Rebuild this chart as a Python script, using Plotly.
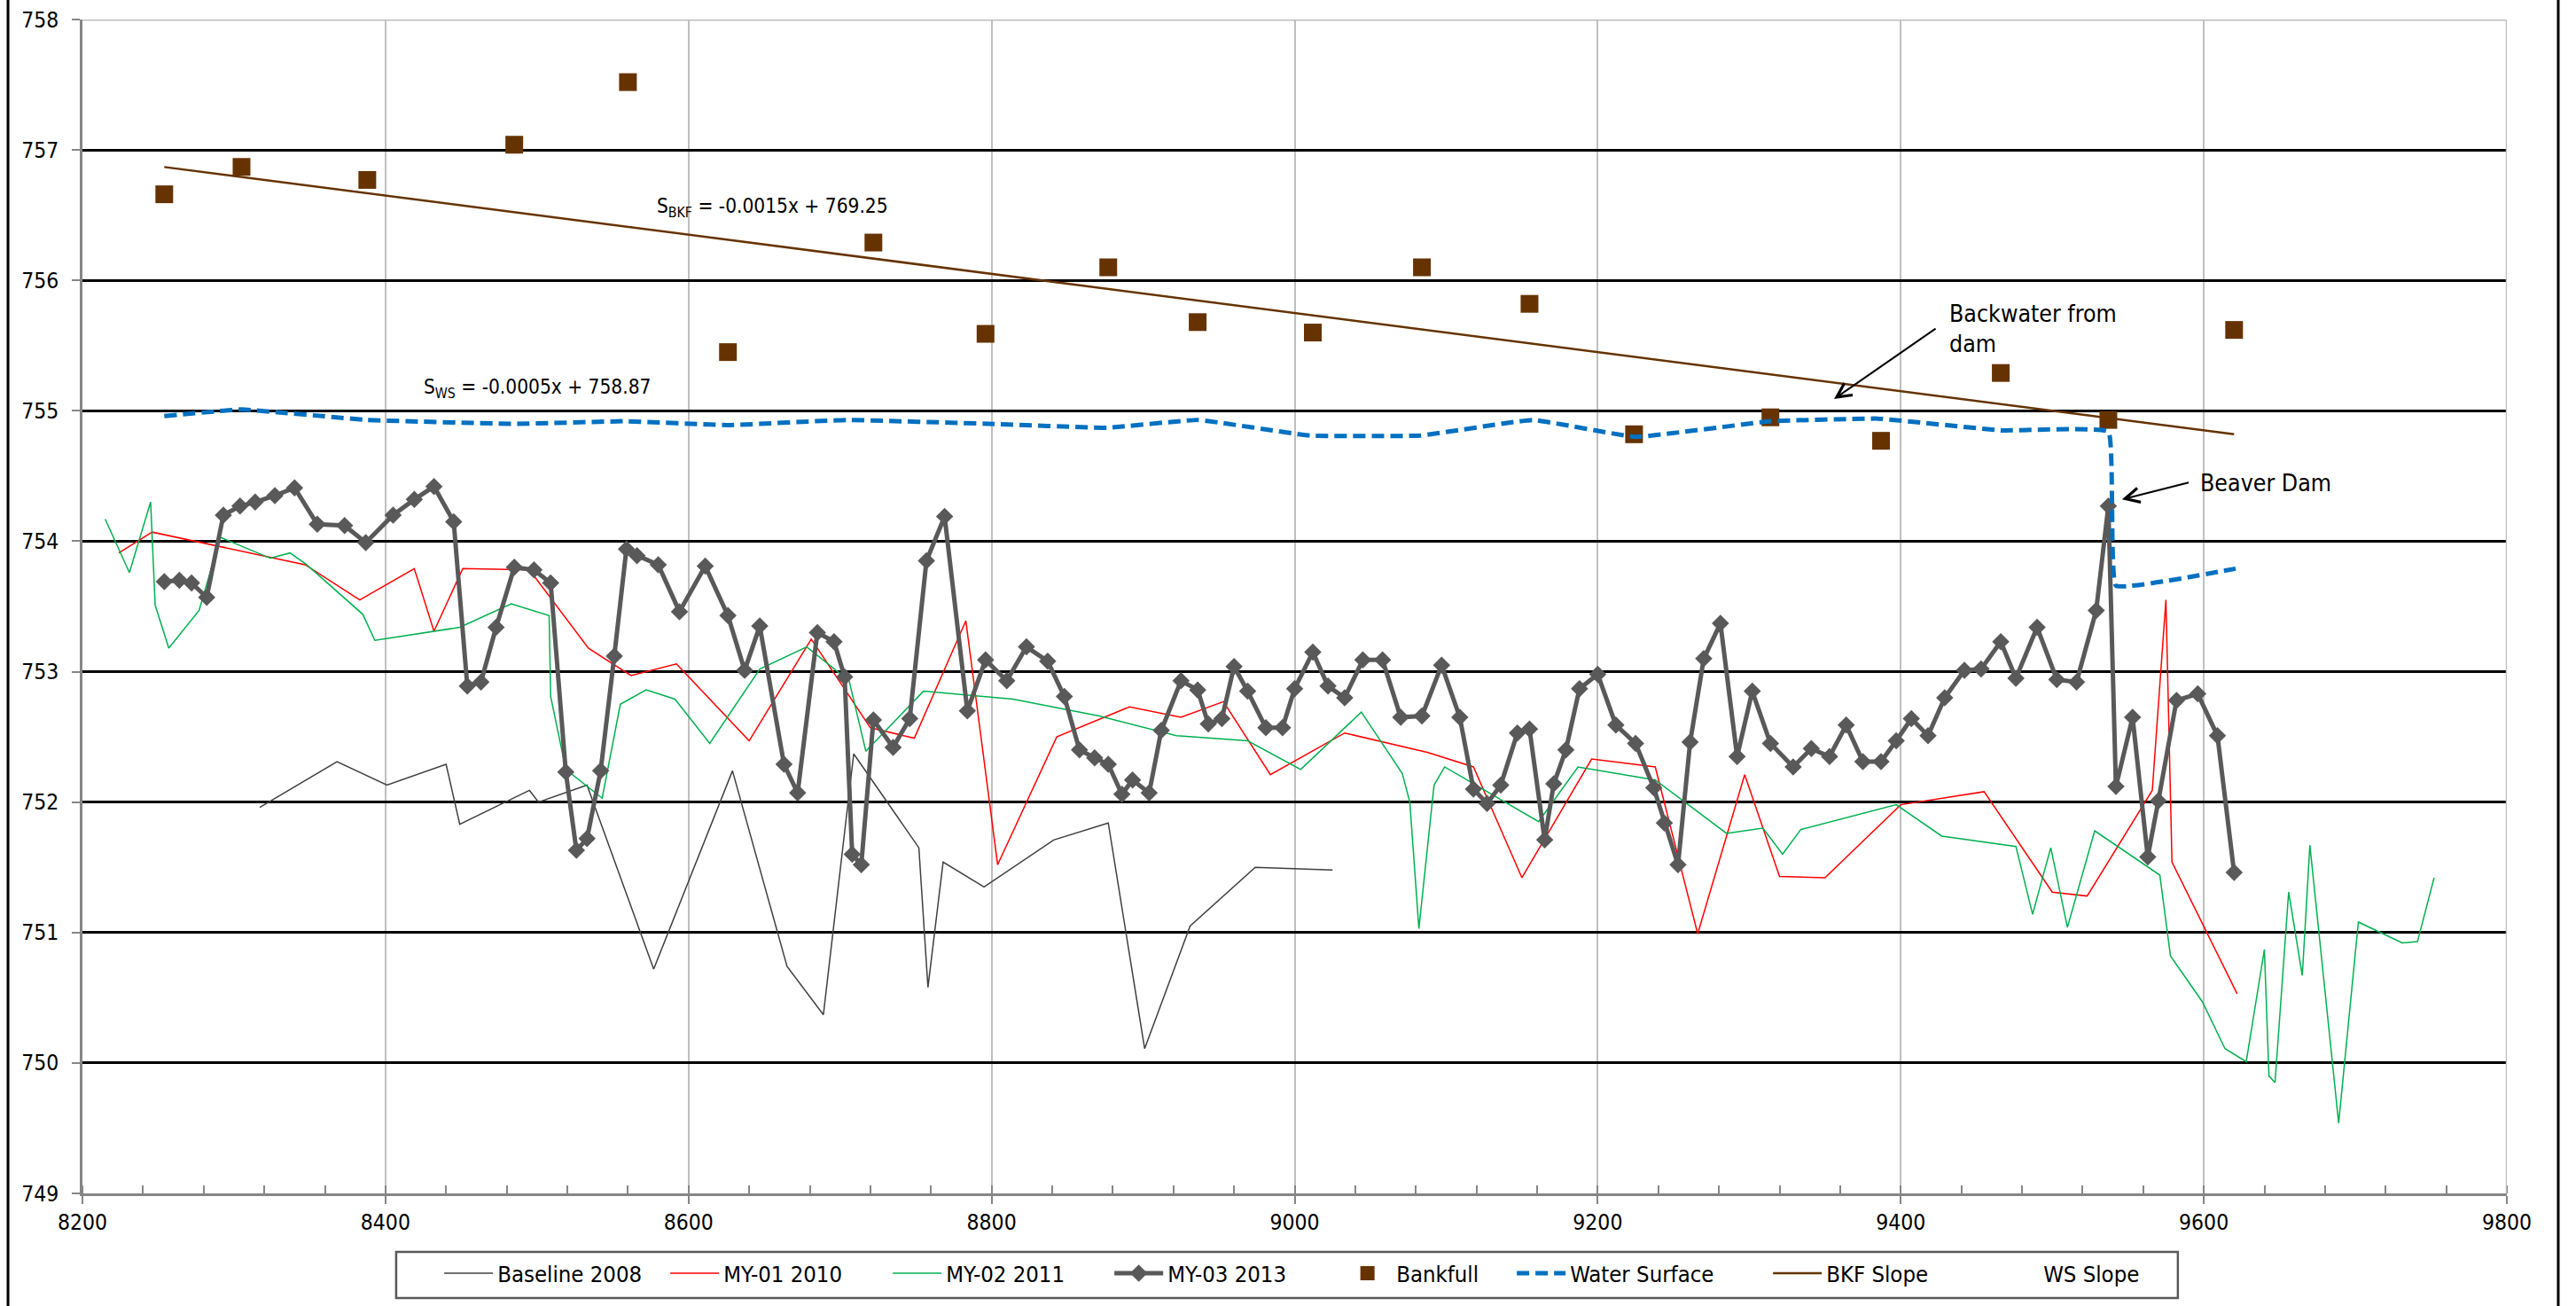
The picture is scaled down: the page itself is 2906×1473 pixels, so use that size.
import plotly.graph_objects as go

# ---- Longitudinal profile data: station (ft) vs elevation (ft) ----
baseline_x = [8317, 8368, 8401, 8440, 8449, 8495, 8501, 8533, 8577, 8629, 8665, 8689,
              8709, 8752, 8758, 8768, 8795, 8841, 8877, 8901, 8931, 8974, 9025]
baseline_y = [751.96, 752.31, 752.13, 752.29, 751.83, 752.09, 752.00, 752.13, 750.72,
              752.24, 750.74, 750.37, 752.37, 751.65, 750.58, 751.54, 751.35, 751.71,
              751.84, 750.11, 751.05, 751.50, 751.48]

my01_x = [8224, 8246, 8347, 8383, 8419, 8432, 8451, 8495, 8534, 8562, 8592, 8640, 8681,
          8720, 8749, 8783, 8804, 8843, 8891, 8925, 8953, 8984, 9033, 9088, 9118, 9150,
          9196, 9238, 9266, 9297, 9320, 9350, 9400, 9455, 9500, 9523, 9566, 9575, 9579, 9622]
my01_y = [753.91, 754.07, 753.82, 753.55, 753.79, 753.31, 753.79, 753.78, 753.18, 752.97,
          753.06, 752.47, 753.25, 752.57, 752.49, 753.39, 751.52, 752.50, 752.73, 752.65,
          752.77, 752.21, 752.53, 752.38, 752.27, 751.42, 752.33, 752.27, 750.99, 752.21,
          751.43, 751.42, 751.98, 752.08, 751.31, 751.28, 752.09, 753.55, 751.54, 750.53]

my02_x = [8215, 8231, 8245, 8248, 8257, 8277, 8291, 8324, 8337, 8348, 8385, 8393, 8449,
          8483, 8508, 8509, 8519, 8543, 8555, 8572, 8591, 8614, 8647, 8678, 8706, 8717,
          8755, 8814, 8871, 8922, 8969, 9004, 9044, 9071, 9076, 9082, 9092, 9099, 9161,
          9187, 9238, 9285, 9309, 9322, 9334, 9397, 9427, 9476, 9487, 9499, 9510, 9528,
          9571, 9578, 9599, 9614, 9628, 9640, 9643, 9647, 9656, 9665, 9670, 9681, 9689,
          9702, 9731, 9741, 9752]
my02_y = [754.17, 753.76, 754.30, 753.51, 753.18, 753.47, 754.03, 753.87, 753.91, 753.82,
          753.44, 753.24, 753.34, 753.52, 753.43, 752.81, 752.25, 752.03, 752.75, 752.86,
          752.79, 752.45, 753.02, 753.19, 752.93, 752.39, 752.85, 752.79, 752.66, 752.51,
          752.47, 752.25, 752.69, 752.22, 752.00, 751.03, 752.13, 752.27, 751.85, 752.27,
          752.17, 751.76, 751.80, 751.60, 751.79, 751.98, 751.74, 751.66, 751.14, 751.65,
          751.04, 751.78, 751.44, 750.82, 750.47, 750.11, 750.01, 750.87, 749.90, 749.85,
          751.31, 750.67, 751.67, 750.45, 749.54, 751.08, 750.92, 750.93, 751.42]

my03_x = [8254, 8264, 8272, 8282, 8293, 8304, 8314, 8327, 8340, 8355, 8373, 8387, 8405,
          8419, 8432, 8445, 8454, 8463, 8473, 8485, 8498, 8509, 8519, 8526, 8533, 8542,
          8551, 8559, 8566, 8580, 8594, 8611, 8626, 8637, 8647, 8663, 8672, 8685, 8696,
          8703, 8708, 8714, 8722, 8735, 8746, 8757, 8769, 8784, 8796, 8810, 8823, 8837,
          8848, 8858, 8868, 8877, 8886, 8893, 8904, 8912, 8925, 8936, 8943, 8952, 8960,
          8969, 8981, 8992, 9000, 9012, 9022, 9033, 9045, 9058, 9070, 9084, 9097, 9109,
          9118, 9127, 9136, 9147, 9155, 9165, 9171, 9179, 9188, 9200, 9212, 9225, 9237,
          9244, 9253, 9261, 9270, 9281, 9292, 9302, 9314, 9329, 9341, 9353, 9364, 9375,
          9387, 9397, 9407, 9418, 9429, 9442, 9453, 9466, 9476, 9490, 9503, 9516, 9529,
          9537, 9542, 9553, 9563, 9570, 9582, 9596, 9609, 9620]
my03_y = [753.69, 753.70, 753.68, 753.57, 754.20, 754.27, 754.30, 754.35, 754.41, 754.13,
          754.12, 753.99, 754.20, 754.32, 754.42, 754.15, 752.89, 752.92, 753.34, 753.80,
          753.78, 753.68, 752.23, 751.63, 751.72, 752.24, 753.12, 753.94, 753.89, 753.82,
          753.46, 753.81, 753.43, 753.01, 753.35, 752.29, 752.07, 753.30, 753.23, 752.96,
          751.60, 751.52, 752.63, 752.42, 752.64, 753.85, 754.19, 752.70, 753.09, 752.93,
          753.19, 753.08, 752.81, 752.40, 752.34, 752.29, 752.06, 752.17, 752.07, 752.55,
          752.93, 752.86, 752.60, 752.64, 753.04, 752.85, 752.57, 752.57, 752.87, 753.15,
          752.89, 752.80, 753.09, 753.09, 752.65, 752.66, 753.05, 752.65, 752.10, 751.99,
          752.13, 752.53, 752.56, 751.71, 752.14, 752.40, 752.87, 752.98, 752.59, 752.45,
          752.11, 751.84, 751.52, 752.46, 753.10, 753.37, 752.35, 752.85, 752.45, 752.27,
          752.41, 752.35, 752.59, 752.31, 752.31, 752.47, 752.64, 752.51, 752.80, 753.01,
          753.02, 753.23, 752.95, 753.34, 752.94, 752.92, 753.47, 754.27, 752.12, 752.65,
          751.58, 752.01, 752.78, 752.83, 752.51, 751.46]

bankfull_x = [8254, 8305, 8388, 8485, 8560, 8626, 8722, 8796, 8877, 8936, 9012, 9084,
              9155, 9224, 9314, 9387, 9466, 9537, 9620]
bankfull_y = [756.66, 756.87, 756.77, 757.04, 757.52, 755.45, 756.29, 755.59, 756.10,
              755.68, 755.60, 756.10, 755.82, 754.82, 754.95, 754.77, 755.29, 754.93, 755.62]

ws_x = [8254, 8305, 8388, 8485, 8558, 8626, 8704, 8798, 8876, 8936, 9010, 9083, 9157,
        9225, 9314, 9385, 9466, 9537, 9542, 9621]
ws_y = [754.96, 755.01, 754.93, 754.90, 754.92, 754.89, 754.93, 754.90, 754.87, 754.93,
        754.81, 754.81, 754.93, 754.80, 754.92, 754.94, 754.85, 754.84, 753.66, 753.79]

# Linear trend coefficients (slope, intercept)
bkf_slope, bkf_intercept = -0.0015, 769.25
ws_slope, ws_intercept = -0.0005, 758.87

x_ticks = [8200, 8400, 8600, 8800, 9000, 9200, 9400, 9600, 9800]
y_ticks = [749, 750, 751, 752, 753, 754, 755, 756, 757, 758]

FONT = "Liberation Sans Narrow, DejaVu Sans Condensed, Liberation Sans, sans-serif"

fig = go.Figure()

fig.add_trace(go.Scatter(x=baseline_x, y=baseline_y, mode="lines", name="Baseline 2008",
                         line=dict(color="#404040", width=1.5), legendwidth=185))
fig.add_trace(go.Scatter(x=my01_x, y=my01_y, mode="lines", name="MY-01 2010",
                         line=dict(color="#FF0000", width=1.5), legendwidth=181))
fig.add_trace(go.Scatter(x=my02_x, y=my02_y, mode="lines", name="MY-02 2011",
                         line=dict(color="#00B050", width=1.5), legendwidth=180))
fig.add_trace(go.Scatter(x=my03_x, y=my03_y, mode="lines+markers", name="MY-03 2013",
                         line=dict(color="#595959", width=5),
                         marker=dict(symbol="diamond", size=15, color="#595959"),
                         legendwidth=188))
fig.add_trace(go.Scatter(x=bankfull_x, y=bankfull_y, mode="markers", name="Bankfull",
                         marker=dict(symbol="square", size=20, color="#663300"),
                         legendwidth=126))
fig.add_trace(go.Scatter(x=ws_x, y=ws_y, mode="lines", name="Water Surface",
                         line=dict(color="#0070C0", width=5, dash="14px,7px",
                                   shape="spline", smoothing=0.25),
                         legendwidth=219))

bkf_fit_x = [min(bankfull_x), max(bankfull_x)]
bkf_fit_y = [bkf_slope * v + bkf_intercept for v in bkf_fit_x]
fig.add_trace(go.Scatter(x=bkf_fit_x, y=bkf_fit_y, mode="lines", name="BKF Slope",
                         line=dict(color="#663300", width=2.5), legendwidth=175))

ws_fit_x = [min(ws_x), max(ws_x)]
ws_fit_y = [ws_slope * v + ws_intercept for v in ws_fit_x]
fig.add_trace(go.Scatter(x=ws_fit_x, y=ws_fit_y, mode="lines", name="WS Slope",
                         line=dict(color="rgba(0,0,0,0)", width=2), legendwidth=110))

TXT = dict(family=FONT, size=26.5, color="#000000")
EQ = dict(family=FONT, size=22.5, color="#000000")
ARROW = dict(showarrow=True, arrowhead=5, arrowsize=1.6, arrowwidth=2,
             arrowcolor="#000000", xref="x", yref="y", axref="x", ayref="y")

annotations = [
    dict(x=8578, y=756.56, xref="x", yref="y", xanchor="left", yanchor="middle",
         text="S<sub>BKF</sub> = -0.0015x + 769.25", showarrow=False, font=EQ),
    dict(x=8424, y=755.17, xref="x", yref="y", xanchor="left", yanchor="middle",
         text="S<sub>WS</sub> = -0.0005x + 758.87", showarrow=False, font=EQ),
    # callout text sits just right of each arrow tail
    dict(x=9356, y=755.09, ax=9423, ay=755.63, xanchor="left", yanchor="middle",
         align="left", text="Backwater from<br>dam", font=TXT, borderpad=14, **ARROW),
    dict(x=9546, y=754.32, ax=9590, ay=754.45, xanchor="left", yanchor="middle",
         text="Beaver Dam", font=TXT, borderpad=12, **ARROW),
]

shapes = [
    # plot frame: top and right edges
    dict(type="line", xref="x", yref="y", x0=8200, x1=9800, y0=758, y1=758,
         line=dict(color="#BFBFBF", width=3), layer="above"),
    dict(type="line", xref="x", yref="y", x0=9800, x1=9800, y0=749, y1=758,
         line=dict(color="#BFBFBF", width=2.5), layer="above"),
    # legend box
    dict(type="rect", xref="paper", yref="paper", x0=0.1294, x1=0.8643, y0=-0.0891,
         y1=-0.0498, line=dict(color="#595959", width=2.5), fillcolor="rgba(0,0,0,0)",
         layer="above"),
    # chart-area border
    dict(type="rect", xref="paper", yref="paper", x0=-0.0307, x1=1.0212, y0=-0.11, y1=1.03,
         line=dict(color="#000000", width=3), fillcolor="rgba(0,0,0,0)", layer="above"),
]

fig.update_layout(
    width=2906, height=1473,
    margin=dict(l=93, r=78, t=22, b=127, autoexpand=False),
    paper_bgcolor="#FFFFFF", plot_bgcolor="#FFFFFF",
    font=dict(family=FONT, size=24, color="#000000"),
    showlegend=True,
    legend=dict(orientation="h", x=0.1474, xanchor="left", y=-0.0505, yanchor="top",
                borderwidth=0, bgcolor="rgba(0,0,0,0)",
                font=dict(family=FONT, size=25.5, color="#000000"), itemwidth=55,
                traceorder="normal"),
    annotations=annotations,
    shapes=shapes,
    xaxis=dict(range=[8200, 9800], tickvals=x_ticks, ticktext=[str(v) for v in x_ticks],
               showgrid=True, gridcolor="#BFBFBF", gridwidth=2,
               showline=True, linecolor="#868686", linewidth=2.5,
               ticks="outside", ticklen=9, tickwidth=2, tickcolor="#868686",
               minor=dict(dtick=40, tick0=8200, ticks="inside", ticklen=9, tickwidth=2,
                          tickcolor="#868686", showgrid=False),
               zeroline=False, tickfont=dict(family=FONT, size=24.5, color="#000000")),
    yaxis=dict(range=[749, 758], tickvals=y_ticks, ticktext=[str(v) for v in y_ticks],
               showgrid=True, gridcolor="#000000", gridwidth=2.5,
               showline=True, linecolor="#868686", linewidth=2.5,
               ticks="outside", ticklen=9, tickwidth=2, tickcolor="#868686",
               ticklabelstandoff=10,
               zeroline=False, tickfont=dict(family=FONT, size=24.5, color="#000000")),
)

fig.write_html("out.html")
